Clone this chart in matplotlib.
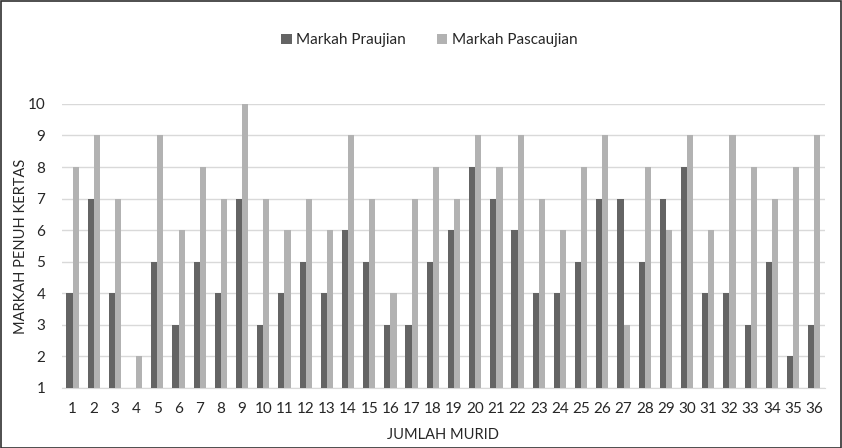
import matplotlib.pyplot as plt
import numpy as np
from matplotlib.patches import Rectangle

plt.rcParams['font.family'] = ['Lato', 'DejaVu Sans']

murid = [str(i) for i in range(1, 37)]
markah_praujian = [4, 7, 4, 1, 5, 3, 5, 4, 7, 3, 4, 5, 4, 6, 5, 3, 3, 5,
                   6, 8, 7, 6, 4, 4, 5, 7, 7, 5, 7, 8, 4, 4, 3, 5, 2, 3]
markah_pascaujian = [8, 9, 7, 2, 9, 6, 8, 7, 10, 7, 6, 7, 6, 9, 7, 4, 7, 8,
                     7, 9, 8, 9, 7, 6, 8, 9, 3, 8, 6, 9, 6, 9, 8, 7, 8, 9]

DARK = '#646464'
LIGHT = '#B2B2B2'
TXT = '#262626'

fig = plt.figure(figsize=(8.42, 4.48), dpi=100)
ax = fig.add_axes([0.0736, 0.134, 0.906, 0.634])

x = np.arange(len(murid))
w = 0.29
base = 1
ax.bar(x - w / 2, np.array(markah_praujian) - base, w, bottom=base,
       color=DARK, label='Markah Praujian', zorder=3)
ax.bar(x + w / 2, np.array(markah_pascaujian) - base, w, bottom=base,
       color=LIGHT, label='Markah Pascaujian', zorder=3)

ax.set_xlim(-0.5, len(murid) - 0.5)
ax.set_ylim(1, 10)
ax.set_yticks(range(1, 11))
ax.set_xticks(x)
ax.set_xticklabels(murid)
ax.tick_params(axis='both', length=0, labelsize=11, colors=TXT)
ax.tick_params(axis='x', pad=10)
ax.tick_params(axis='y', pad=12)
ax.grid(axis='y', color='#D9D9D9', linewidth=1, zorder=0)
for s in ['top', 'left', 'right']:
    ax.spines[s].set_visible(False)
ax.spines['bottom'].set_color('#D9D9D9')

ax.set_xlabel('JUMLAH MURID', fontsize=10.5, color=TXT, labelpad=9)
ax.set_ylabel('MARKAH PENUH KERTAS', fontsize=10.5, color=TXT, labelpad=0)

fig.legend(loc='center', bbox_to_anchor=(0.51, 0.91), ncol=2, frameon=False,
           fontsize=11, handlelength=0.7, handleheight=0.7, handletextpad=0.3,
           columnspacing=2.0, labelcolor=TXT)

fig.patches.append(Rectangle((0.001, 0.001), 0.998, 0.997, transform=fig.transFigure,
                             fill=False, edgecolor='#303030', linewidth=1.2))

fig.savefig('out.png', dpi=100)
